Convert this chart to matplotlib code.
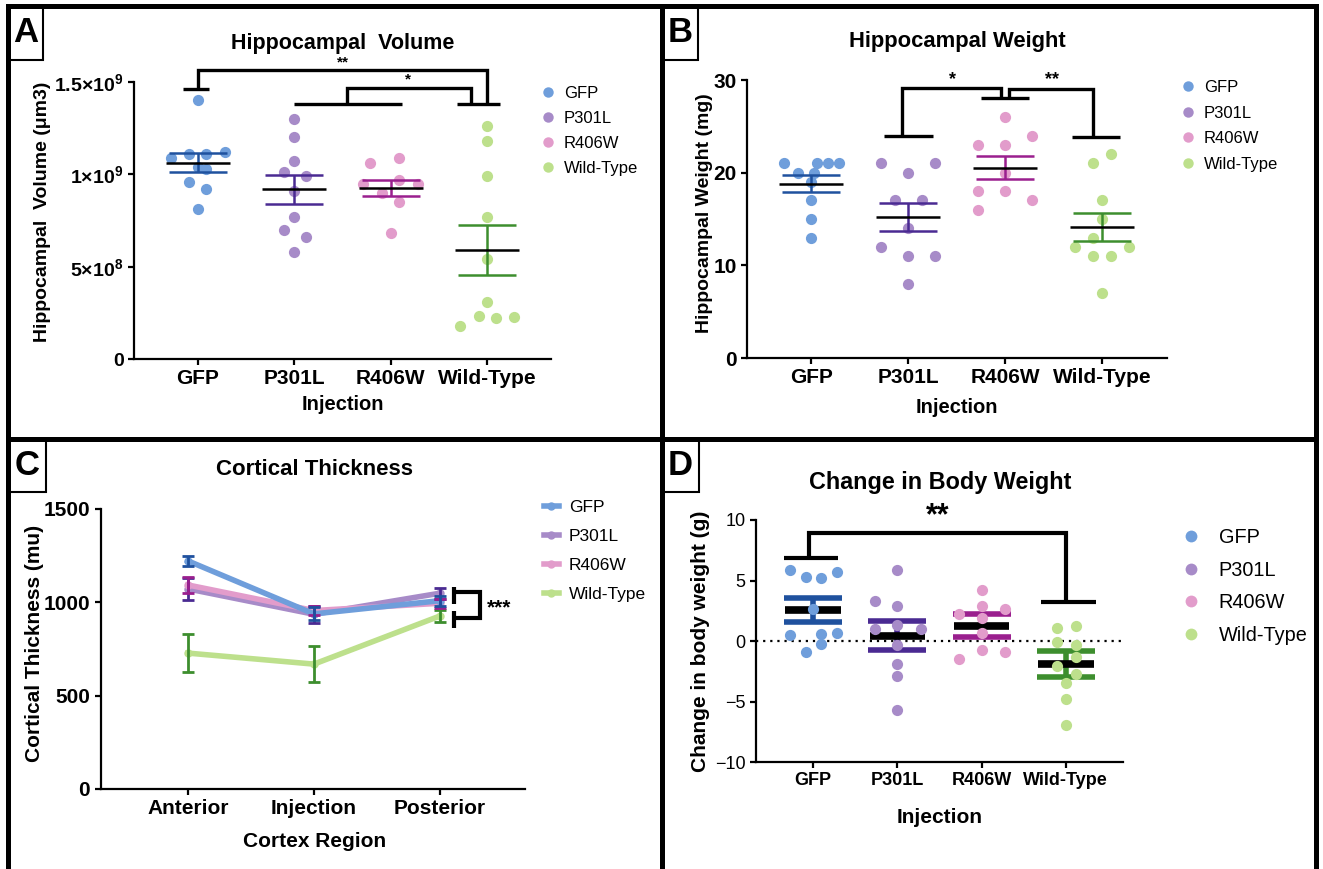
import numpy as np
import matplotlib
matplotlib.use('Agg')
import matplotlib.pyplot as plt
from matplotlib.lines import Line2D
from matplotlib.patches import Rectangle

W, H = 1323, 869
plt.rcParams['font.family'] = ['Liberation Sans', 'DejaVu Sans']
plt.rcParams['mathtext.fontset'] = 'custom'
plt.rcParams['mathtext.bf'] = 'Liberation Sans:bold'
plt.rcParams['mathtext.rm'] = 'Liberation Sans'

groups = ['GFP', 'P301L', 'R406W', 'Wild-Type']
light = ['#6f9edb', '#a78bc8', '#e29ccb', '#bde08c']
dark = ['#1f519e', '#4a2a92', '#9a1f8e', '#3d8e2e']

# A: hippocampal volume (x1e9 um3)
vol_gfp = [1.40, 1.09, 1.11, 1.11, 1.12, 1.04, 1.03, 0.96, 0.92, 0.81]
vol_p301l = [1.30, 1.20, 1.07, 1.01, 0.99, 0.91, 0.77, 0.70, 0.66, 0.58]
vol_r406w = [1.06, 1.09, 0.95, 0.97, 0.945, 0.90, 0.85, 0.68]
vol_wt = [1.26, 1.18, 0.99, 0.77, 0.54, 0.31, 0.234, 0.222, 0.225, 0.18]
vol_mean = [1.063, 0.918, 0.927, 0.591]
vol_sem = [0.050, 0.077, 0.042, 0.134]

# B: hippocampal weight (mg)
wt_gfp = [21, 21, 21, 21, 20, 20, 19, 17, 15, 13]
wt_p301l = [21, 21, 20, 17, 17, 14, 12, 11, 11, 8]
wt_r406w = [26, 24, 23, 23, 20, 18, 18, 17, 16]
wt_wt = [22, 21, 17, 15, 13, 12, 12, 11, 11, 7]
wt_mean = [18.83, 15.2, 20.55, 14.12]
wt_sem = [0.94, 1.5, 1.22, 1.51]

# C: cortical thickness
regions = ['Anterior', 'Injection', 'Posterior']
ct_mean = {'GFP': [1222, 938, 1009], 'P301L': [1072, 936, 1049],
           'R406W': [1093, 956, 995], 'Wild-Type': [728, 669, 927]}
ct_sem = {'GFP': [25, 35, 27], 'P301L': [57, 45, 30],
          'R406W': [45, 25, 25], 'Wild-Type': [100, 96, 34]}

# D: change in body weight (g)
bw_gfp = [5.87, 5.27, 5.18, 5.68, 2.63, 0.51, 0.59, 0.70, -0.26, -0.87]
bw_p301l = [5.87, 3.31, 2.90, 1.0, 1.0, 1.33, -0.32, -1.91, -2.87, -5.73]
bw_r406w = [4.22, 2.2, 2.9, 2.63, 1.88, 0.65, -1.5, -0.73, -0.87]
bw_wt = [1.11, 1.2, -0.1, -0.32, -1.36, -2.05, -2.74, -3.48, -4.8, -6.92]
bw_mean = [2.54, 0.45, 1.28, -1.91]
bw_sem = [1.0, 1.2, 0.92, 1.07]

# horizontal scatter offsets (swarm layout), category units
vol_dx = [[0, -.28, -.09, .09, .28, 0, .09, -.09, .09, 0],
          [0, 0, 0, -.11, .12, 0, 0, -.11, .12, 0],
          [-.21, .09, -.29, .09, .28, -.09, .09, 0],
          [0, 0, 0, 0, 0, 0, -.09, .09, .28, -.28]]
wt_dx = [[-.28, .06, .17, .28, -.14, .03, 0, 0, 0, 0],
         [-.28, .28, 0, -.14, .14, 0, -.28, 0, .28, 0],
         [0, .28, -.28, 0, 0, -.28, 0, .28, -.28],
         [.09, -.09, 0, 0, -.09, -.28, .28, -.09, .09, 0]]
bw_dx = [[-.28, -.09, .09, .28, 0, -.28, .09, .28, .09, -.09],
         [0, -.27, 0, -.27, .28, 0, 0, 0, 0, 0],
         [0, -.27, 0, .28, 0, 0, -.27, 0, .28],
         [-.11, .12, -.11, .12, .12, -.11, .12, 0, 0, 0]]

fig = plt.figure(figsize=(W / 100, H / 100), dpi=100)


def add_ax(l, r, t, b):
    return fig.add_axes([l / W, 1 - b / H, (r - l) / W, (b - t) / H])


def style(ax, size=15):
    for s in ['top', 'right']:
        ax.spines[s].set_visible(False)
    for s in ['left', 'bottom']:
        ax.spines[s].set_linewidth(1.6)
    ax.tick_params(direction='out', length=4.5, width=1.6, labelsize=size, pad=3)


def dot_panel(ax, data, dxs, means, sems, mscale=1.0, top=False,
              mean_lw=1.8, sem_lw=1.8, cap=21, s=65):
    for i, vals in enumerate(data):
        v = np.asarray(vals) * mscale
        ax.scatter(i + np.asarray(dxs[i]), v, s=s, color=light[i], lw=0,
                   clip_on=False, zorder=5 if top else 2)
        m = means[i] * mscale
        ax.errorbar(i, m, yerr=sems[i] * mscale, fmt='none', ecolor=dark[i],
                    elinewidth=sem_lw, capsize=cap, capthick=sem_lw, zorder=3)
        ax.hlines(m, i - 0.33, i + 0.33, color='k', lw=mean_lw, zorder=4)
    ax.set_xticks(range(4))
    ax.set_xticklabels(groups, fontweight='bold')


def legend(ax, handles, x, y, fs, hl, htp, ls):
    ax.legend(handles, groups, loc='upper left', bbox_to_anchor=(x / W, 1 - y / H),
              bbox_transform=fig.transFigure, frameon=False, borderpad=0,
              borderaxespad=0, handlelength=hl, handletextpad=htp,
              labelspacing=ls, fontsize=fs)


def dots(ms):
    return [Line2D([], [], ls='none', marker='o', ms=ms, color=c, mew=0) for c in light]


def br(ax, xs, ys, lw=2.4):
    ax.plot(xs, ys, color='k', lw=lw, clip_on=False, solid_capstyle='butt',
            solid_joinstyle='miter', zorder=6)


# ---- A ----
axA = add_ax(134, 551, 82, 359)
style(axA)
dot_panel(axA, [vol_gfp, vol_p301l, vol_r406w, vol_wt], vol_dx, vol_mean, vol_sem,
          mscale=1e9)
axA.set_xlim(-0.66, 3.66)
axA.set_ylim(0, 1.5e9)
axA.set_yticks([0, 5e8, 1e9, 1.5e9])
axA.set_yticklabels(['0', r'$\mathbf{5{\times}10^8}$', r'$\mathbf{1{\times}10^9}$',
                     r'$\mathbf{1.5{\times}10^9}$'], fontweight='bold', fontsize=14)
axA.set_ylabel('Hippocampal  Volume (μm3)', fontsize=14, fontweight='bold')
axA.yaxis.set_label_coords(-0.20, 0.53)
axA.set_xlabel('Injection', fontsize=14.5, fontweight='bold', va='top')
axA.xaxis.set_label_coords(0.5, -0.13)
br(axA, [-0.15, 0.12], [1.464e9, 1.464e9])
br(axA, [0, 0, 3, 3], [1.464e9, 1.563e9, 1.563e9, 1.383e9])
br(axA, [2.69, 3.13], [1.383e9, 1.383e9])
br(axA, [1.0, 2.12], [1.383e9, 1.383e9])
br(axA, [1.55, 1.55, 2.83, 2.83], [1.383e9, 1.469e9, 1.469e9, 1.383e9])
axA.text(1.5, 1.608e9, '**', ha='center', va='center', fontsize=11, fontweight='bold')
axA.text(2.18, 1.513e9, '*', ha='center', va='center', fontsize=11, fontweight='bold')
legend(axA, dots(7.5), 541, 86, 12, 0.8, 0.56, 0.6)

# ---- B ----
axB = add_ax(747, 1167, 80, 358)
style(axB)
dot_panel(axB, [wt_gfp, wt_p301l, wt_r406w, wt_wt], wt_dx, wt_mean, wt_sem)
axB.set_xlim(-0.665, 3.67)
axB.set_ylim(0, 30)
axB.set_yticks([0, 10, 20, 30])
axB.set_yticklabels(['0', '10', '20', '30'], fontweight='bold')
axB.set_ylabel('Hippocampal Weight (mg)', fontsize=14, fontweight='bold')
axB.yaxis.set_label_coords(-0.081, 0.52)
axB.set_xlabel('Injection', fontsize=14.5, fontweight='bold', va='top')
axB.xaxis.set_label_coords(0.5, -0.144)
br(axB, [0.75, 1.25], [24, 24])
br(axB, [0.93, 0.93, 1.96, 1.96], [24, 29.1, 29.1, 28.03])
br(axB, [1.75, 2.25], [28.03, 28.03])
br(axB, [2.04, 2.04, 2.91, 2.91], [28.03, 29.0, 29.0, 23.8])
br(axB, [2.69, 3.19], [23.8, 23.8])
axB.text(1.46, 30.0, '*', ha='center', va='center', fontsize=13, fontweight='bold')
axB.text(2.48, 30.0, '**', ha='center', va='center', fontsize=13, fontweight='bold')
legend(axB, dots(7.5), 1181, 80, 12, 0.8, 0.56, 0.63)

# ---- C ----
axC = add_ax(100.5, 525, 509, 789)
style(axC, 15)
xr = np.arange(len(regions))
for g in ['Wild-Type', 'P301L', 'R406W', 'GFP']:
    i = groups.index(g)
    axC.plot(xr, ct_mean[g], color=light[i], lw=4, marker='o', ms=5, zorder=2)
    axC.errorbar(xr, ct_mean[g], yerr=ct_sem[g], fmt='none', ecolor=dark[i],
                 elinewidth=2, capsize=4.5, capthick=2, zorder=3)
axC.set_xticks(xr)
axC.set_xticklabels(regions, fontweight='bold')
axC.set_xlim(-0.694, 2.675)
axC.set_ylim(0, 1500)
axC.set_yticks([0, 500, 1000, 1500])
axC.set_yticklabels(['0', '500', '1000', '1500'], fontweight='bold')
axC.set_ylabel('Cortical Thickness (mu)', fontsize=15, fontweight='bold')
axC.yaxis.set_label_coords(-0.133, 0.52)
axC.set_xlabel('Cortex Region', fontsize=15, fontweight='bold', va='top')
axC.xaxis.set_label_coords(0.505, -0.154)
br(axC, [2.11, 2.11], [992, 1084], lw=3)
br(axC, [2.11, 2.32, 2.32, 2.11], [1058, 1058, 915, 915], lw=3)
br(axC, [2.11, 2.11], [861, 956], lw=3)
axC.text(2.47, 968, '***', ha='center', va='center', fontsize=15, fontweight='bold')
legend(axC, [Line2D([], [], color=c, lw=4, marker='o', ms=5) for c in light],
       544, 500, 12.5, 0.84, 0.6, 0.8)

# ---- D ----
axD = add_ax(756, 1123, 520, 762)
style(axD, 13)
dot_panel(axD, [bw_gfp, bw_p301l, bw_r406w, bw_wt], bw_dx, bw_mean, bw_sem,
          top=True, mean_lw=5.5, sem_lw=4, cap=21, s=65)
axD.axhline(0, color='k', lw=1.6, ls=(0, (1, 2.2)), zorder=1)
axD.set_xlim(-0.68, 3.68)
axD.set_ylim(-10, 10)
axD.set_yticks([-10, -5, 0, 5, 10])
axD.set_ylabel('Change in body weight (g)', fontsize=15, fontweight='bold')
axD.yaxis.set_label_coords(-0.125, 0.50)
axD.set_xlabel('Injection', fontsize=15, fontweight='bold', va='top')
axD.xaxis.set_label_coords(0.5, -0.19)
br(axD, [-0.35, 0.29], [6.89, 6.89], lw=3)
br(axD, [-0.05, -0.05, 3.0, 3.0], [6.89, 8.9, 8.9, 3.26], lw=3)
br(axD, [2.70, 3.36], [3.26, 3.26], lw=3)
axD.text(1.48, 10.27, '**', ha='center', va='center', fontsize=22, fontweight='bold')
legend(axD, dots(8.5), 1185, 528, 14.3, 0.6, 1.1, 0.68)

# ---- titles ----
for txt, x, y, fs in [('Hippocampal  Volume', 343, 43, 15.5),
                      ('Hippocampal Weight', 957, 42, 15.8),
                      ('Cortical Thickness', 315, 470, 16),
                      ('Change in Body Weight', 940, 482, 16.8)]:
    fig.text(x / W, 1 - y / H, txt, ha='center', va='center', fontsize=fs,
             fontweight='bold')

# ---- frame and panel letters ----
def fline(xs, ys, lw=3.6):
    fig.add_artist(Line2D([x / W for x in xs], [1 - y / H for y in ys], color='k',
                          lw=lw, transform=fig.transFigure, solid_capstyle='projecting'))


fline([8, 8], [6, 869])
fline([8, 1315.5], [6, 6])
fline([1315.5, 1315.5], [6, 869])
fline([662, 662], [6, 869])
fline([8, 1315.5], [439, 439])

for letter, x0, y0, x1, y1 in [('A', 8, 6, 43, 60), ('B', 662, 6, 698, 60),
                               ('C', 8, 439, 46, 492), ('D', 662, 439, 699, 492)]:
    fig.add_artist(Rectangle((x0 / W, 1 - y1 / H), (x1 - x0) / W, (y1 - y0) / H,
                             transform=fig.transFigure, fill=False, lw=1.5,
                             edgecolor='k'))
    fig.text((x0 + x1) / 2 / W, 1 - (y0 + y1) / 2 / H, letter, ha='center',
             va='center', fontsize=25, fontweight='bold')

fig.savefig('out.png', dpi=100)
